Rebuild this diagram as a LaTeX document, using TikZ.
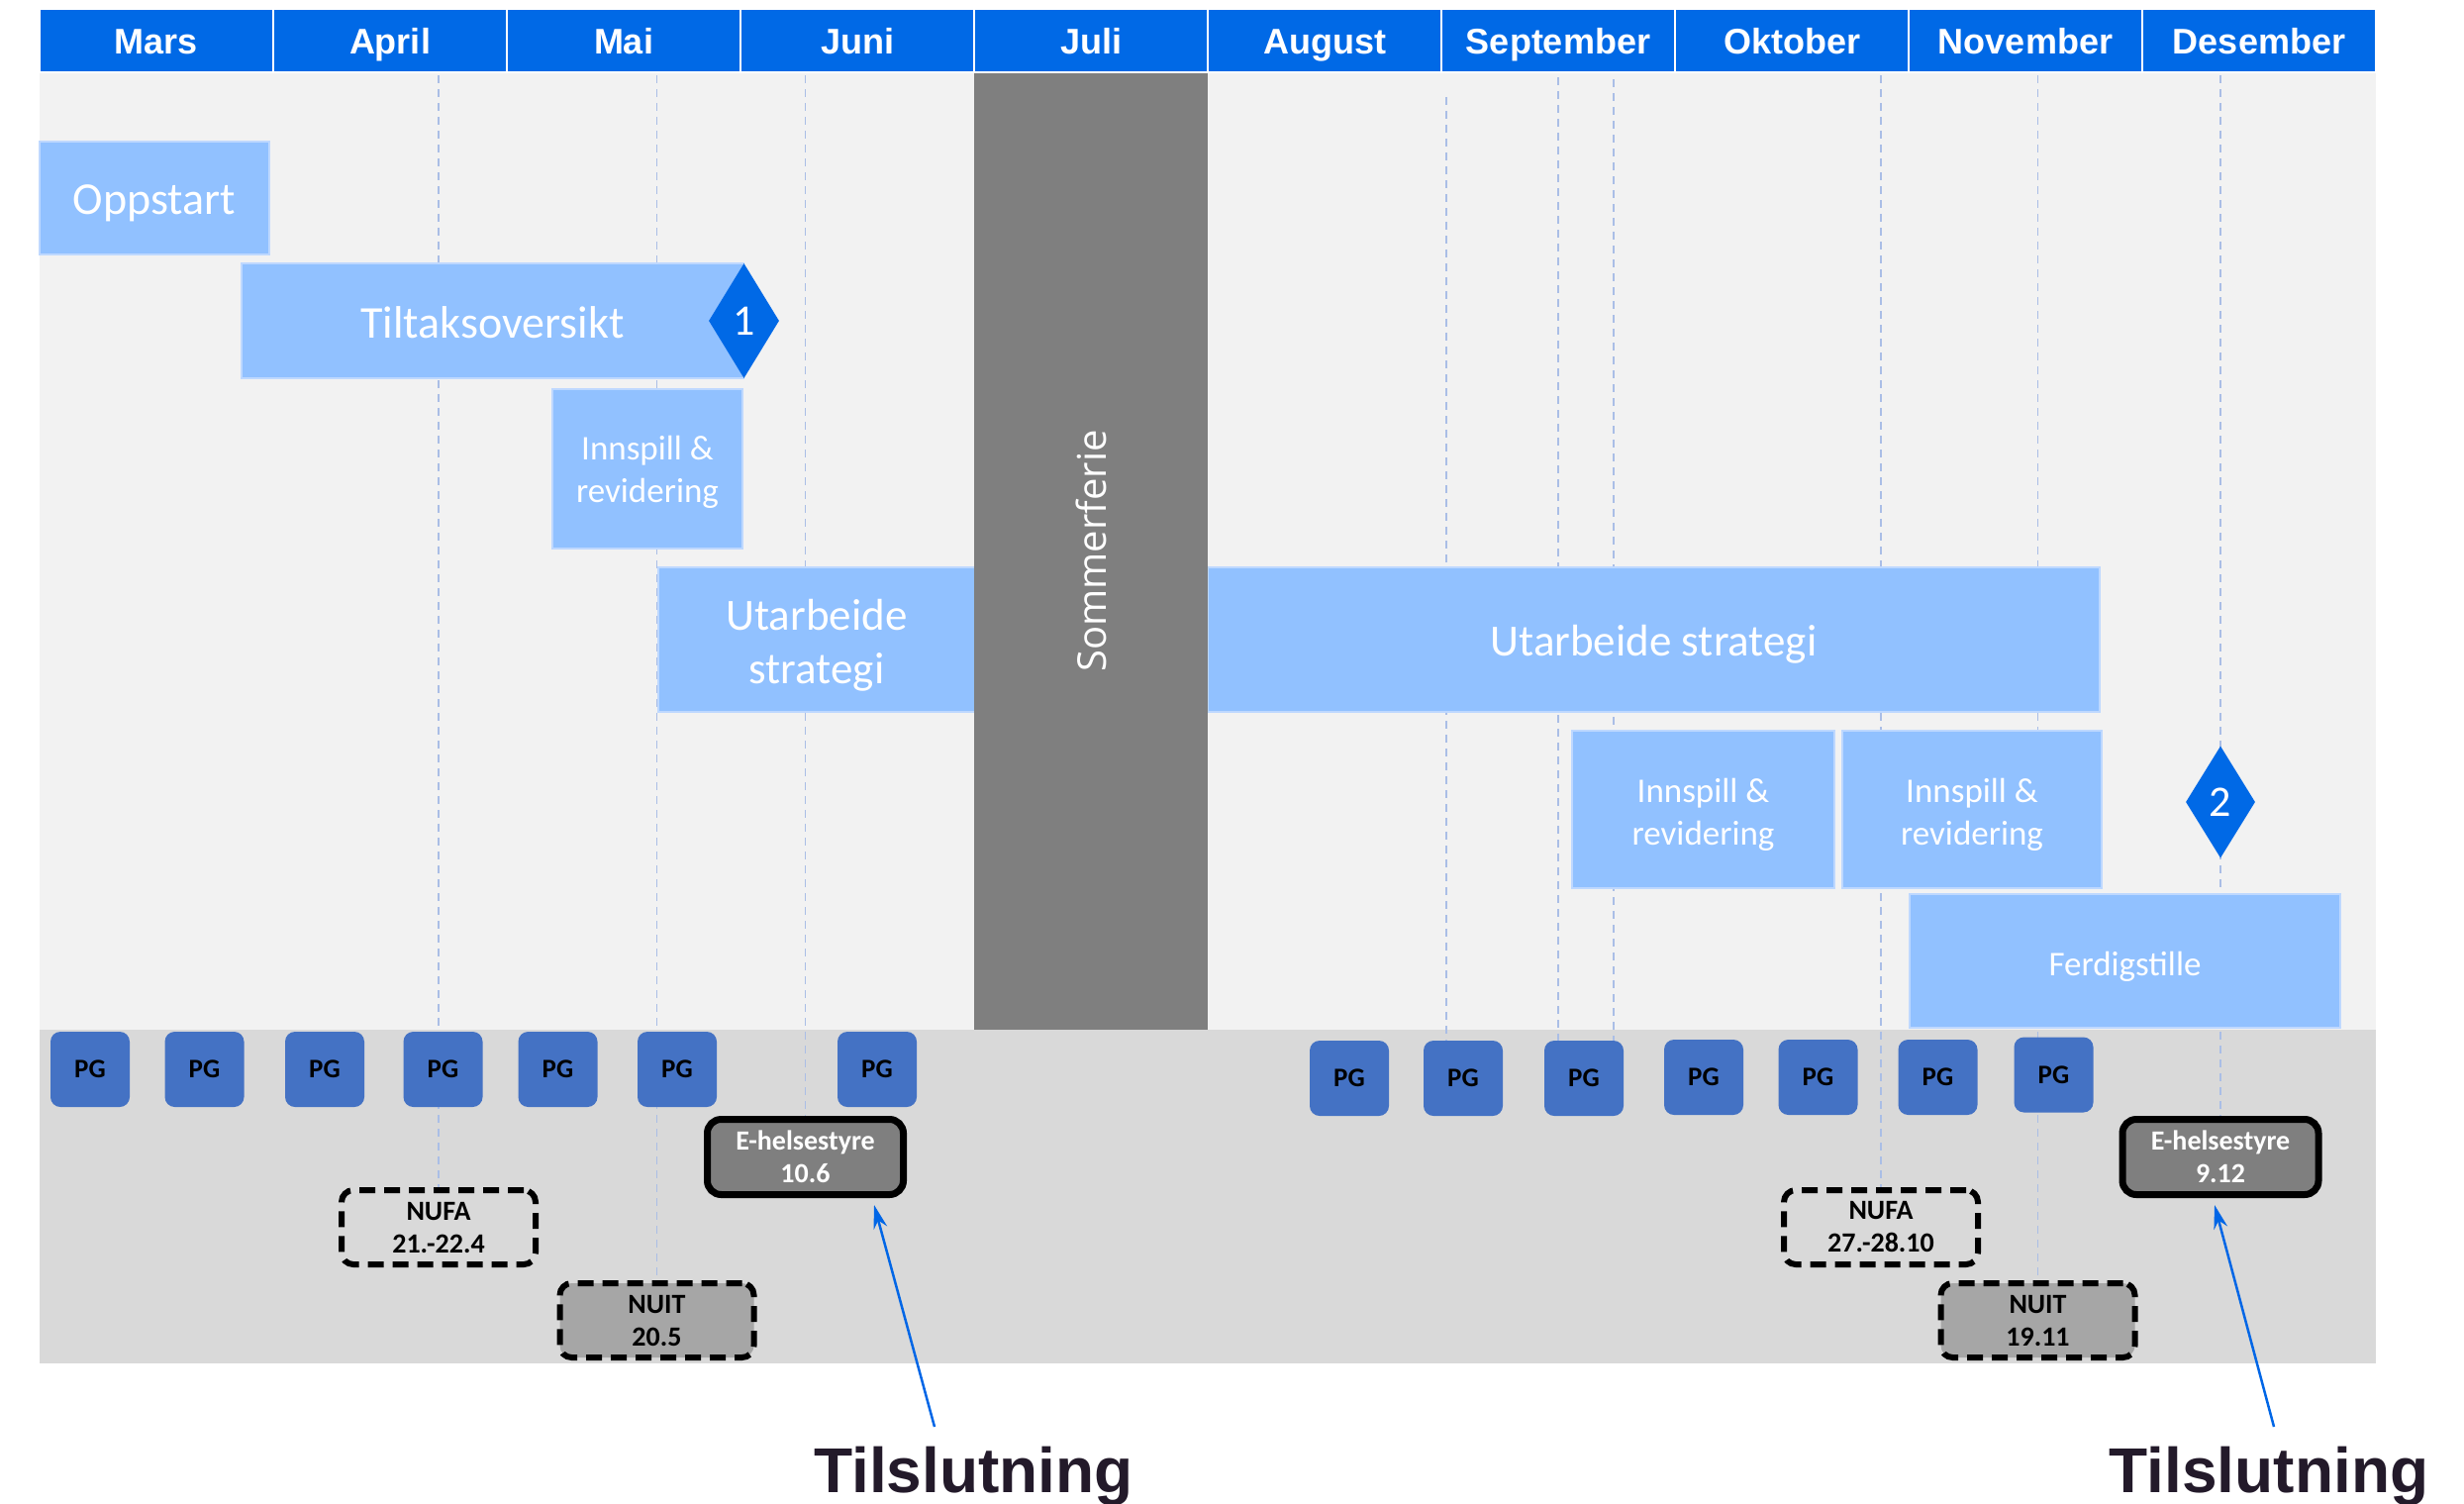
\documentclass[tikz,border=0pt]{standalone}
\usepackage{fontspec}
\setmainfont{Carlito}
\newfontfamily\headfont{Liberation Sans}
\newfontfamily\sidefont{Open Sans}
\usetikzlibrary{shapes.geometric,arrows.meta}

\definecolor{hdrblue}{RGB}{0,105,230}
\definecolor{barblue}{RGB}{145,193,255}
\definecolor{barline}{RGB}{190,216,255}
\definecolor{panel}{RGB}{242,242,242}
\definecolor{band}{RGB}{217,217,217}
\definecolor{holiday}{RGB}{127,127,127}
\definecolor{pgblue}{RGB}{68,114,196}
\definecolor{nuitgray}{RGB}{166,166,166}
\definecolor{guidecol}{RGB}{170,190,230}
\definecolor{inkdark}{RGB}{35,26,42}
\definecolor{arrowblue}{RGB}{0,102,230}

\newcommand\fsz[2]{\fontsize{#1}{#2}\selectfont}
% lower a line of text without changing its measured size
\newcommand\dn[2][5]{\raisebox{-#1pt}[\height][\depth]{#2}}

\pgfdeclarelayer{background}
\pgfsetlayers{background,main}

\tikzset{
  month/.style={fill=hdrblue, draw=white, line width=2, minimum width=236, minimum height=64,
    inner sep=0, text=white, font=\headfont\bfseries\fsz{36}{40}, text height=26, text depth=0},
  bar/.style={fill=barblue, draw=barline, line width=1.5, inner sep=0, text=white, align=center},
  milestone/.style={shape=diamond, fill=hdrblue, inner sep=0, text=white, font=\fsz{44}{50}},
  pgbox/.style={fill=pgblue, rounded corners=10, minimum width=80, minimum height=76,
    inner sep=0, text=black, font=\bfseries\fsz{27}{30}},
  board/.style={fill=holiday, draw=black, line width=7, rounded corners=14, minimum width=198,
    minimum height=76, inner sep=0, text=white, align=center, font=\bfseries\fsz{28}{33}},
  meeting/.style={draw=black, line width=6, dash pattern=on 16 off 9, rounded corners=12,
    minimum width=196, minimum height=75, inner sep=0, text=black, align=center,
    font=\bfseries\fsz{28}{33}},
  guideline/.style={draw=guidecol, line width=1.5, dash pattern=on 8 off 6},
  callout/.style={draw=arrowblue, line width=2.5, -{Stealth[length=24, width=14]}},
  tagtext/.style={inner sep=0, anchor=base, text=inkdark, font=\headfont\bfseries\fsz{64}{70}},
}

\begin{document}
\begin{tikzpicture}[x=1pt,y=-1pt]
\useasboundingbox (0,0) rectangle (2489,1518);

% background areas
\begin{pgfonlayer}{background}
  \fill[panel] (40,73) rectangle (2400,1040);
  \fill[band] (40,1040) rectangle (2400,1377);
\end{pgfonlayer}

% activity bars
\node[bar, minimum width=232, minimum height=114, font=\fsz{46}{55}] (oppstart) at (156,200) {\dn{Oppstart}};
\node[bar, minimum width=507, minimum height=116, font=\fsz{46}{55}] (tiltak) at (497.5,324) {\dn[2]{Tiltaksoversikt}};
\node[bar, minimum width=192, minimum height=161, font=\fsz{35}{43}] (innspill1) at (654,473.5) {\dn[3]{Innspill \&}\\\dn[3]{revidering}};
\node[bar, minimum width=320, minimum height=146, font=\fsz{45}{54}] (utarb1) at (825,646) {\dn[5.5]{Utarbeide}\\\dn[5.5]{strategi}};
\node[bar, minimum width=901, minimum height=146, font=\fsz{45}{54}] (utarb2) at (1670.5,646) {\dn{Utarbeide strategi}};
\node[bar, minimum width=265, minimum height=159, font=\fsz{35}{43}] (innspill2) at (1720.5,817.5) {\dn{Innspill \&}\\\dn{revidering}};
\node[bar, minimum width=262, minimum height=159, font=\fsz{35}{43}] (innspill3) at (1992,817.5) {\dn{Innspill \&}\\\dn{revidering}};
\node[bar, minimum width=435, minimum height=135, font=\fsz{35}{43}] (ferdig) at (2146.5,970.5) {\dn[6]{Ferdigstille}};

% summer break
\node[fill=holiday, minimum width=236, minimum height=967, inner sep=0] (ferie) at (1102,556.5) {};
\node[rotate=90, text=white, font=\sidefont\fsz{40}{44}, inner sep=0] (ferietxt) at (ferie.center) {Sommerferie};

% month header
\foreach \m [count=\i from 0] in {Mars,April,Mai,Juni,Juli,August,September,Oktober,November,Desember}
  \node[month] (m\i) at (158+236*\i,41) {\m};

% project group meetings
\node[pgbox] (pg1) at (91,1080) {PG};
\node[pgbox] (pg2) at (206.5,1080) {PG};
\node[pgbox] (pg3) at (328,1080) {PG};
\node[pgbox] (pg4) at (447.5,1080) {PG};
\node[pgbox] (pg5) at (563.5,1080) {PG};
\node[pgbox] (pg6) at (684,1080) {PG};
\node[pgbox] (pg7) at (886,1080) {PG};
\node[pgbox] (pg8) at (1363,1089) {PG};
\node[pgbox] (pg9) at (1478,1089) {PG};
\node[pgbox] (pg10) at (1600,1089) {PG};
\node[pgbox] (pg11) at (1721,1088) {PG};
\node[pgbox] (pg12) at (1836.5,1088) {PG};
\node[pgbox] (pg13) at (1957.5,1088) {PG};
\node[pgbox] (pg14) at (2074.5,1085.5) {PG};

% boards and councils
\node[board] (ehs1) at (813.5,1168.5) {E-helsestyre\\10.6};
\node[board] (ehs2) at (2243,1168.5) {E-helsestyre\\9.12};
\node[meeting] (nufa1) at (443,1239.5) {NUFA\\21.-22.4};
\node[meeting, fill=nuitgray] (nuit1) at (663.5,1333.5) {NUIT\\20.5};
\node[meeting] (nufa2) at (1900,1239.5) {NUFA\\27.-28.10};
\node[meeting, fill=nuitgray] (nuit2) at (2058.5,1333.5) {NUIT\\19.11};

% milestones
\node[milestone, minimum width=71, minimum height=116] (ms1) at (751.5,324) {1};
\node[milestone, minimum width=70, minimum height=113] (ms2) at (2243,810) {2};

% date guides, drawn behind all boxes
\coordinate (gtop) at (0,76);
\coordinate (g1) at (1461,98);
\coordinate (g2) at (1574,78);
\coordinate (g3) at (1630,66);
\begin{pgfonlayer}{background}
  \foreach \t in {nufa1,nuit1,ehs1,nufa2,nuit2,ehs2}
    \draw[guideline] (\t.north |- gtop) -- (\t.north);
  \draw[guideline] (g1) -- (g1 |- pg9.north);
  \draw[guideline] (g2) -- (g2 |- pg10.north);
  \draw[guideline] (g3) -- (g3 |- pg10.north);
\end{pgfonlayer}

% closing captions
\node[tagtext] (tils1) at (983.5,1507) {Tilslutning};
\node[tagtext] (tils2) at (2292,1507) {Tilslutning};
\coordinate (a1s) at (944,1441);
\coordinate (a1e) at (883,1217);
\coordinate (a2s) at (2297,1441);
\coordinate (a2e) at (2237,1217);
\draw[callout] (a1s) -- (a1e);
\draw[callout] (a2s) -- (a2e);
\end{tikzpicture}
\end{document}
